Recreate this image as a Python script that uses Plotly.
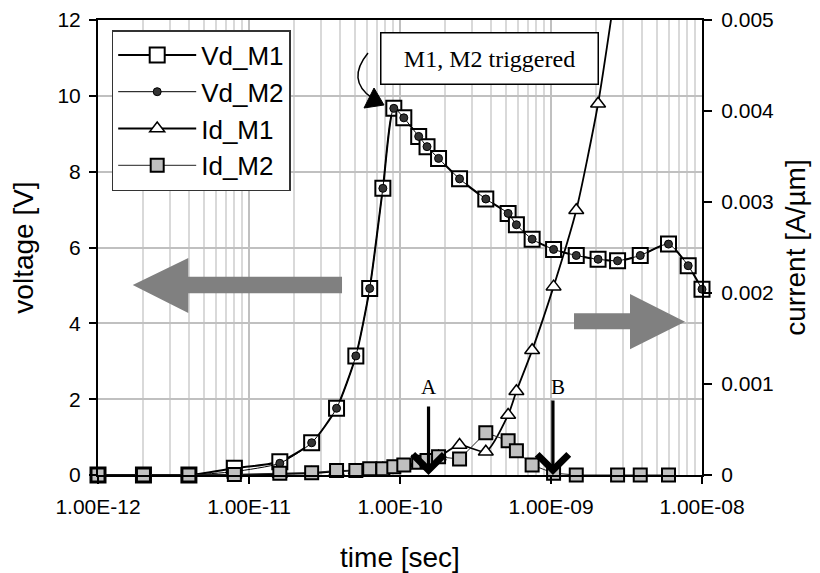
import numpy as np
import plotly.graph_objects as go

# ---------------- data ----------------
t_v = [1e-12, 2e-12, 4e-12, 8e-12, 1.6e-11, 2.6e-11, 3.8e-11, 5.1e-11, 6.3e-11, 7.7e-11,
       9.1e-11, 1.06e-10, 1.33e-10, 1.51e-10, 1.8e-10, 2.48e-10, 3.7e-10, 5.2e-10, 5.9e-10,
       7.5e-10, 1.04e-9, 1.47e-9, 2.05e-9, 2.76e-9, 3.9e-9, 6.0e-9, 8.1e-9, 1.0e-8]
vd_m1 = [0, 0, 0, 0.18, 0.35, 0.85, 1.76, 3.14, 4.92, 7.56,
         9.67, 9.42, 8.93, 8.66, 8.35, 7.81, 7.28, 6.90, 6.60,
         6.22, 5.95, 5.79, 5.69, 5.65, 5.79, 6.09, 5.52, 4.90]
vd_m2 = [0, 0, 0, 0.09, 0.31, 0.85, 1.76, 3.14, 4.92, 7.56,
         9.67, 9.42, 8.93, 8.66, 8.35, 7.81, 7.28, 6.90, 6.60,
         6.22, 5.95, 5.79, 5.69, 5.65, 5.79, 6.09, 5.52, 4.90]

t_i1 = [1e-12, 2e-12, 4e-12, 8e-12, 1.6e-11, 2.6e-11, 3.8e-11, 5.1e-11, 6.3e-11, 7.7e-11,
        9.1e-11, 1.06e-10, 1.33e-10, 1.51e-10, 1.8e-10, 2.48e-10, 3.7e-10, 5.2e-10, 5.9e-10,
        7.5e-10, 1.04e-9, 1.47e-9, 2.05e-9, 2.76e-9]
id_m1 = [0, 0, 0, 0, 0.00001, 0.00002, 0.00004, 0.00005, 0.00006, 0.00007,
         0.00008, 0.0001, 0.00013, 0.00016, 0.0002, 0.00033, 0.000256, 0.00066, 0.00092,
         0.00137, 0.00207, 0.00291, 0.00408, 0.0055]

t_i2 = [1e-12, 2e-12, 4e-12, 8e-12, 1.6e-11, 2.6e-11, 3.8e-11, 5.1e-11, 6.3e-11, 7.7e-11,
        9.1e-11, 1.06e-10, 1.33e-10, 1.51e-10, 1.8e-10, 2.48e-10, 3.7e-10, 5.2e-10, 5.9e-10,
        7.5e-10, 1.04e-9, 1.47e-9, 2.76e-9, 3.9e-9, 6.0e-9]
id_m2 = [0, 0, 0, 0.000005, 0.00002, 0.000025, 0.00005, 0.00005, 0.00007, 0.00007,
         0.00009, 0.00011, 0.00014, 0.00016, 0.0002, 0.000176, 0.000465, 0.000377, 0.000267,
         0.00011, 0.00002, 0, 0, 0, 0]

x_tickvals = [1e-12, 1e-11, 1e-10, 1e-9, 1e-8]
x_ticktext = ["1.00E-12", "1.00E-11", "1.00E-10", "1.00E-09", "1.00E-08"]
x_minor = [m * 10.0 ** e for e in range(-12, -8) for m in range(2, 10)]
y2_tickvals = [0, 0.001, 0.002, 0.003, 0.004, 0.005]
y2_ticktext = ["0", "0.001", "0.002", "0.003", "0.004", "0.005"]

t_A = 1.545e-10
t_B = 1.03e-9

# ---------------- layout geometry ----------------
W, H = 820, 573
ML, MR, MT, MB = 98, 118, 20, 98
PW, PH = W - ML - MR, H - MT - MB


def P(px, py):
    """pixel -> paper coordinates"""
    return (px - ML) / PW, (H - MB - py) / PH


def poly(pts):
    s = ""
    for i, (px, py) in enumerate(pts):
        x, y = P(px, py)
        s += ("M" if i == 0 else "L") + f"{x:.4f},{y:.4f} "
    return s + "Z"


SANS = "Liberation Sans, Arial, sans-serif"
SERIF = "Liberation Serif, Times New Roman, serif"

fig = go.Figure()
fig.add_trace(go.Scatter(
    x=t_v, y=vd_m1, name="Vd_M1", mode="lines+markers", cliponaxis=False,
    line=dict(color="black", width=2, shape="spline", smoothing=0.6),
    marker=dict(symbol="square", size=15, color="white", line=dict(color="black", width=2)),
))
fig.add_trace(go.Scatter(
    x=t_v, y=vd_m2, name="Vd_M2", mode="lines+markers", cliponaxis=False,
    line=dict(color="black", width=1, shape="spline", smoothing=0.6),
    marker=dict(symbol="circle", size=8, color="#333333", line=dict(color="black", width=1)),
))
fig.add_trace(go.Scatter(
    x=t_i1, y=id_m1, name="Id_M1", mode="lines+markers", yaxis="y2", cliponaxis=False,
    line=dict(color="black", width=1.8, shape="spline", smoothing=0.6),
    marker=dict(symbol="triangle-up", size=13, color="white", line=dict(color="black", width=1.5)),
))
fig.add_trace(go.Scatter(
    x=t_i2, y=id_m2, name="Id_M2", mode="lines+markers", yaxis="y2", cliponaxis=False,
    line=dict(color="#222222", width=1),
    marker=dict(symbol="square", size=13, color="#c0c0c0", line=dict(color="black", width=2)),
))

shapes = []
# gray direction arrows
shapes.append(dict(type="path", xref="paper", yref="paper", layer="above",
                   path=poly([(132.7, 285), (188.3, 258), (188.3, 276.7), (342, 276.7),
                              (342, 293.3), (188.3, 293.3), (188.3, 313)]),
                   fillcolor="#808080", line=dict(width=0)))
shapes.append(dict(type="path", xref="paper", yref="paper", layer="above",
                   path=poly([(685, 321.7), (630, 349.3), (630, 329.3), (574, 329.3),
                              (574, 313.3), (630, 313.3), (630, 294)]),
                   fillcolor="#808080", line=dict(width=0)))
# curved pointer from label box to the peak
x0, y0 = P(368, 53)
cx, cy = P(346, 80)
x1, y1 = P(372, 98)
shapes.append(dict(type="path", xref="paper", yref="paper", layer="above",
                   path=f"M{x0:.4f},{y0:.4f} Q{cx:.4f},{cy:.4f} {x1:.4f},{y1:.4f}",
                   line=dict(color="black", width=1.5)))
shapes.append(dict(type="path", xref="paper", yref="paper", layer="above",
                   path=poly([(384, 105), (364, 108), (374, 88)]),
                   fillcolor="black", line=dict(color="black", width=1)))

annotations = []
bx, by = P(489, 58.3)
annotations.append(dict(xref="paper", yref="paper", x=bx, y=by, text="M1, M2 triggered",
                        showarrow=False, font=dict(family=SERIF, size=24, color="black"),
                        bgcolor="white", bordercolor="black", borderwidth=1.5,
                        width=210, height=44, borderpad=3, xanchor="center", yanchor="middle"))
for t_, lab, dx_text, tail in [(t_A, "A", 0, 70), (t_B, "B", 5, 76)]:
    annotations.append(dict(x=np.log10(t_), y=0, xref="x", yref="y", text="",
                            showarrow=True, arrowhead=4, arrowsize=1.9, arrowwidth=3.2,
                            arrowcolor="black", ax=0, ay=-tail, standoff=0))
    annotations.append(dict(x=np.log10(t_), y=0, xref="x", yref="y", text=lab,
                            showarrow=False, xshift=dx_text, yshift=88,
                            font=dict(family=SERIF, size=21, color="black")))

lx, ly = P(111.7, 30)
fig.update_layout(
    width=W, height=H,
    margin=dict(l=ML, r=MR, t=MT, b=MB),
    paper_bgcolor="white", plot_bgcolor="white",
    font=dict(family=SANS, size=21, color="black"),
    showlegend=True,
    legend=dict(x=lx, y=ly, xanchor="left", yanchor="top",
                bgcolor="white", bordercolor="#333333", borderwidth=1.5,
                font=dict(family=SANS, size=26, color="black"),
                itemwidth=78, tracegroupgap=0),
    xaxis=dict(type="log", range=[-12, -8], tickvals=x_tickvals, ticktext=x_ticktext,
               automargin=False,
               showgrid=True, gridcolor="#c0c0c0", gridwidth=2,
               minor=dict(tickvals=x_minor, showgrid=True, gridcolor="#d9d9d9", gridwidth=1.5, ticks=""),
               showline=True, linecolor="black", linewidth=2, mirror=True,
               ticks="outside", ticklen=7, tickcolor="black", tickwidth=1.5,
               tickfont=dict(size=21), zeroline=False, ticklabelstandoff=5,
               title=dict(text="time [sec]", font=dict(size=28), standoff=30)),
    yaxis=dict(range=[0, 12], tickvals=[0, 2, 4, 6, 8, 10, 12],
               automargin=False,
               showgrid=True, gridcolor="#c0c0c0", gridwidth=2,
               showline=True, linecolor="black", linewidth=2,
               ticks="outside", ticklen=7, tickcolor="black", tickwidth=1.5,
               tickfont=dict(size=21), zeroline=False, ticklabelstandoff=4,
               title=dict(text="voltage [V]", font=dict(size=28), standoff=16)),
    yaxis2=dict(overlaying="y", side="right", range=[0, 0.005],
                tickvals=y2_tickvals, ticktext=y2_ticktext, automargin=False,
                showgrid=False, showline=True, linecolor="black", linewidth=2,
                ticks="outside", ticklen=8, tickcolor="black", tickwidth=1.5,
                tickfont=dict(size=21), zeroline=False, ticklabelstandoff=5,
                title=dict(text="current [A/µm]", font=dict(size=28), standoff=12)),
    shapes=shapes,
    annotations=annotations,
)

fig.write_html("out.html")
